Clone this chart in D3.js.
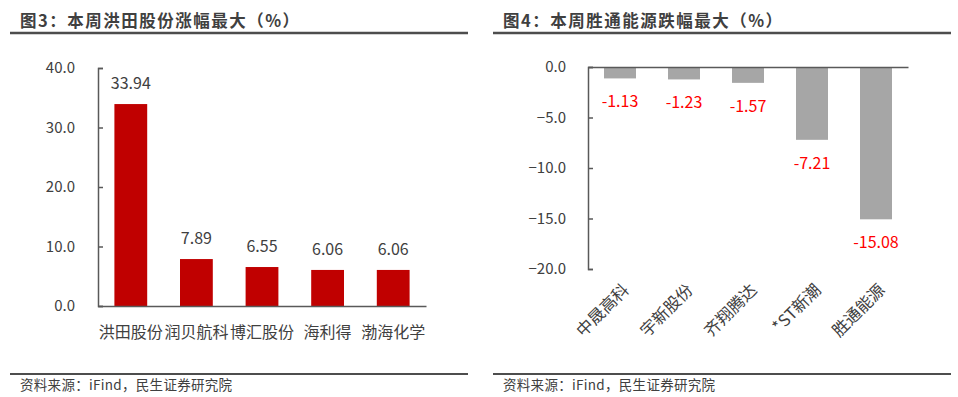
<!DOCTYPE html>
<html>
<head>
<meta charset="utf-8">
<script src="https://cdn.jsdelivr.net/npm/d3@7"></script>
<style>
  body { margin: 0; background: #fff; }
  svg text { font-family: "Microsoft YaHei", "Noto Sans CJK SC", sans-serif; }
</style>
</head>
<body>
<div id="chart"></div>
<script>
const W = 958, H = 397;

// left chart data
const gainNames = ["洪田股份", "润贝航科", "博汇股份", "海利得", "渤海化学"];
const gainValues = [33.94, 7.89, 6.55, 6.06, 6.06];
const gainTicks = [0, 10, 20, 30, 40];

// right chart data
const lossNames = ["中晟高科", "宇新股份", "齐翔腾达", "*ST新潮", "胜通能源"];
const lossValues = [-1.13, -1.23, -1.57, -7.21, -15.08];
const lossTicks = [0, -5, -10, -15, -20];

const svg = d3.select("#chart").append("svg")
    .attr("width", W)
    .attr("height", H);

// titles and rules
function frame(x0, x1, title) {
    svg.append("text")
        .attr("x", x0 + 10).attr("y", 27)
        .attr("font-size", 16.5).attr("font-weight", "bold")
        .attr("letter-spacing", 1.5)
        .attr("fill", "#404040")
        .text(title);
    svg.append("line")
        .attr("x1", x0).attr("x2", x1)
        .attr("y1", 33).attr("y2", 33)
        .attr("stroke", "#4d4d4d").attr("stroke-width", 2.5);
    svg.append("line")
        .attr("x1", x0).attr("x2", x1)
        .attr("y1", 374).attr("y2", 374)
        .attr("stroke", "#4d4d4d").attr("stroke-width", 2);
    svg.append("text")
        .attr("x", x0 + 10).attr("y", 390)
        .attr("font-size", 13.5)
        .attr("letter-spacing", 0.3)
        .attr("fill", "#404040")
        .text("资料来源：iFind，民生证券研究院");
}
frame(10, 468, "图3：本周洪田股份涨幅最大（%）");
frame(493, 951, "图4：本周胜通能源跌幅最大（%）");

function styleAxis(g) {
    g.selectAll("path").attr("stroke", "#595959").attr("stroke-width", 1.5);
    g.selectAll("line").attr("stroke", "#595959").attr("stroke-width", 1.5);
    g.selectAll("text").attr("fill", "#404040")
        .style("font-family", "\"Microsoft YaHei\", \"Noto Sans CJK SC\", sans-serif");
}

// ---- left chart ----
{
    const x = d3.scaleBand().domain(gainNames).range([98, 426]).paddingInner(0.5).paddingOuter(0.25);
    const y = d3.scaleLinear().domain([0, 40]).range([306, 68]);

    const g = svg.append("g");
    g.selectAll(".bar")
        .data(gainValues)
        .join("rect")
        .attr("class", "bar")
        .attr("x", (d, i) => x(gainNames[i]))
        .attr("width", x.bandwidth())
        .attr("y", d => y(d))
        .attr("height", d => y(0) - y(d))
        .attr("fill", "#c00000");

    g.selectAll(".lbl")
        .data(gainValues)
        .join("text")
        .attr("class", "lbl")
        .attr("x", (d, i) => x(gainNames[i]) + x.bandwidth() / 2)
        .attr("y", d => y(d) - 15)
        .attr("text-anchor", "middle")
        .attr("font-size", 16)
        .attr("fill", "#404040")
        .text(d => d.toFixed(2));

    const ya = svg.append("g")
        .attr("transform", "translate(98,0)")
        .call(d3.axisRight(y).tickValues(gainTicks).tickSize(5).tickSizeOuter(5).tickFormat(d3.format(".1f")));
    ya.selectAll("text").attr("x", -23).attr("text-anchor", "end").attr("font-size", 15);
    styleAxis(ya);

    const xa = svg.append("g")
        .attr("transform", "translate(0,306)")
        .call(d3.axisBottom(x).tickSize(0).tickSizeOuter(0));
    xa.selectAll("text").attr("dy", 0).attr("y", 32).attr("font-size", 16);
    styleAxis(xa);
}

// ---- right chart ----
{
    const x = d3.scaleBand().domain(lossNames).range([588, 908]).paddingInner(0.5).paddingOuter(0.25);
    const y = d3.scaleLinear().domain([-20, 0]).range([269, 67]);

    const g = svg.append("g");
    g.selectAll(".bar")
        .data(lossValues)
        .join("rect")
        .attr("class", "bar")
        .attr("x", (d, i) => x(lossNames[i]))
        .attr("width", x.bandwidth())
        .attr("y", y(0))
        .attr("height", d => y(d) - y(0))
        .attr("fill", "#a6a6a6");

    g.selectAll(".lbl")
        .data(lossValues)
        .join("text")
        .attr("class", "lbl")
        .attr("x", (d, i) => x(lossNames[i]) + x.bandwidth() / 2)
        .attr("y", d => y(d) + 29)
        .attr("text-anchor", "middle")
        .attr("font-size", 16)
        .attr("fill", "#ff0000")
        .text(d => d.toFixed(2));

    const ya = svg.append("g")
        .attr("transform", "translate(588,0)")
        .call(d3.axisRight(y).tickValues(lossTicks).tickSize(5).tickSizeOuter(5).tickFormat(d3.format(".1f")));
    ya.selectAll("text").attr("x", -22).attr("text-anchor", "end").attr("font-size", 15);
    styleAxis(ya);

    const xa = svg.append("g")
        .attr("transform", "translate(0,67)")
        .call(d3.axisBottom(x).tickSize(0).tickSizeOuter(0));
    xa.selectAll("text").remove();
    styleAxis(xa);

    svg.append("g").selectAll("text")
        .data(lossNames)
        .join("text")
        .attr("transform", d => `translate(${x(d) + x.bandwidth() / 2 + 10},291) rotate(-45)`)
        .attr("text-anchor", "end")
        .attr("font-size", 16.5)
        .attr("fill", "#404040")
        .text(d => d);
}
</script>
</body>
</html>
